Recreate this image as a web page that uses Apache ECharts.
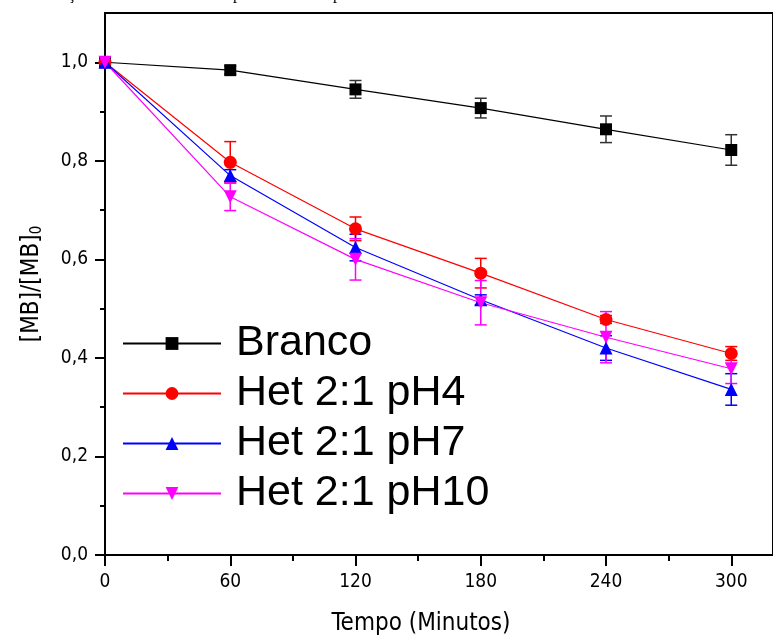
<!DOCTYPE html>
<html>
<head>
<meta charset="utf-8">
<script src="https://cdn.jsdelivr.net/npm/echarts@6/dist/echarts.min.js"></script>
<style>
  html, body { margin: 0; padding: 0; background: #fff; }
  #chart { width: 773px; height: 641px; }
</style>
</head>
<body>
<div id="chart"></div>
<script>
// tempo (minutos)
const tempos = [0, 60, 120, 180, 240, 300];

// [MB]/[MB]0
const branco = [1.0, 0.984, 0.945, 0.907, 0.864, 0.822];
const ph4 = [1.0, 0.797, 0.662, 0.572, 0.478, 0.409];
const ph7 = [1.0, 0.770, 0.624, 0.518, 0.420, 0.336];
const ph10 = [1.0, 0.727, 0.600, 0.512, 0.442, 0.378];

// barras de erro (±)
const brancoErr = [0, 0.008, 0.018, 0.020, 0.027, 0.031];
const ph4Err = [0, 0.042, 0.024, 0.030, 0.008, 0.014];
const ph7Err = [0, 0.012, 0.027, 0.010, 0.025, 0.032];
const ph10Err = [0, 0.028, 0.042, 0.045, 0.052, 0.030];

const xMajor = [0, 60, 120, 180, 240, 300];
const xMinor = [30, 90, 150, 210, 270];
const yMajor = [0, 0.2, 0.4, 0.6, 0.8, 1.0];
const yMinor = [0.1, 0.3, 0.5, 0.7, 0.9];

const names = ['Branco', 'Het 2:1 pH4', 'Het 2:1 pH7', 'Het 2:1 pH10'];
const cores = ['#000000', '#ff0000', '#0000ff', '#ff00ff'];

const narrow = "'Liberation Sans Narrow', 'Arial Narrow', 'DejaVu Sans Condensed', sans-serif";

const chart = echarts.init(document.getElementById('chart'));

const pares = (vals) => tempos.map((t, i) => [t, vals[i]]);
const erros = (vals, errs) => tempos.map((t, i) => [t, vals[i], errs[i]]);

function linha(name, vals, cor, symbol, size, rot) {
  return {
    name: name,
    type: 'line',
    data: pares(vals),
    symbol: symbol,
    symbolSize: size,
    symbolRotate: rot || 0,
    lineStyle: { color: cor, width: 1.2 },
    itemStyle: { color: cor },
    z: 5,
    animation: false
  };
}

function barraErro(vals, errs, cor) {
  return {
    type: 'custom',
    data: erros(vals, errs),
    z: 3,
    silent: true,
    animation: false,
    renderItem: function (params, api) {
      const x = api.value(0), y = api.value(1), e = api.value(2);
      if (!e) return null;
      const top = api.coord([x, y + e]);
      const bot = api.coord([x, y - e]);
      const w = 6;
      const st = { stroke: cor, lineWidth: 1.5 };
      return {
        type: 'group',
        children: [
          { type: 'line', shape: { x1: top[0], y1: top[1], x2: bot[0], y2: bot[1] }, style: st },
          { type: 'line', shape: { x1: top[0] - w, y1: top[1], x2: top[0] + w, y2: top[1] }, style: st },
          { type: 'line', shape: { x1: bot[0] - w, y1: bot[1], x2: bot[0] + w, y2: bot[1] }, style: st }
        ]
      };
    }
  };
}

const fmt = (v) => v.toFixed(1).replace('.', ',');

chart.setOption({
  backgroundColor: '#fff',
  animation: false,
  grid: {
    left: 105, right: -1, top: 13, bottom: 85,
    show: true, borderColor: '#000', borderWidth: 2
  },
  graphic: [
    { type: 'text', left: 68, top: -13, style: { text: 'ç', font: '16px "Liberation Serif"', fill: '#000' } },
    { type: 'text', left: 233, top: -13, style: { text: 'p', font: '16px "Liberation Serif"', fill: '#000' } },
    { type: 'text', left: 333, top: -13, style: { text: 'p', font: '16px "Liberation Serif"', fill: '#000' } }
  ],
  legend: {
    data: names,
    orient: 'vertical',
    left: 117,
    top: 317,
    itemWidth: 98,
    itemHeight: 16,
    itemGap: 7,
    textStyle: {
      fontSize: 43,
      lineHeight: 43,
      fontFamily: "'Liberation Sans', Arial, sans-serif",
      color: '#000',
      padding: [0, 0, 0, 10]
    }
  },
  xAxis: [
    {
      type: 'value', min: 0, max: 320,
      name: 'Tempo (Minutos)', nameLocation: 'middle', nameGap: 57,
      nameTextStyle: { fontSize: 24, fontFamily: narrow, color: '#000', padding: [0, 36, 0, 0] },
      axisLine: { lineStyle: { color: '#000', width: 2 } },
      axisTick: { show: true, inside: false, length: 11, lineStyle: { color: '#000', width: 2 }, customValues: xMajor },
      axisLabel: { fontSize: 19, fontFamily: narrow, color: '#000', margin: 18, customValues: xMajor },
      splitLine: { show: false }
    },
    {
      type: 'value', min: 0, max: 320, position: 'bottom',
      axisLine: { show: false },
      axisTick: { show: true, inside: false, length: 6, lineStyle: { color: '#000', width: 2 }, customValues: xMinor },
      axisLabel: { show: false },
      splitLine: { show: false }
    }
  ],
  yAxis: [
    {
      type: 'value', min: 0, max: 1.1,
      name: '{a|[MB]/[MB]}{b|0}', nameLocation: 'middle', nameGap: 60,
      nameTextStyle: {
        fontSize: 24, fontFamily: narrow, color: '#000',
        rich: {
          a: { fontSize: 24, fontFamily: narrow, color: '#000' },
          b: { fontSize: 15, fontFamily: narrow, color: '#000', verticalAlign: 'bottom', padding: [11, 0, 0, 0] }
        }
      },
      axisLine: { lineStyle: { color: '#000', width: 2 } },
      axisTick: { show: true, inside: false, length: 10, lineStyle: { color: '#000', width: 2 }, customValues: yMajor },
      axisLabel: { fontSize: 19, fontFamily: narrow, color: '#000', margin: 17, formatter: fmt, customValues: yMajor },
      splitLine: { show: false }
    },
    {
      type: 'value', min: 0, max: 1.1, position: 'left',
      axisLine: { show: false },
      axisTick: { show: true, inside: false, length: 5, lineStyle: { color: '#000', width: 2 }, customValues: yMinor },
      axisLabel: { show: false },
      splitLine: { show: false }
    }
  ],
  series: [
    barraErro(branco, brancoErr, '#333333'),
    barraErro(ph4, ph4Err, cores[1]),
    barraErro(ph7, ph7Err, cores[2]),
    barraErro(ph10, ph10Err, cores[3]),
    linha(names[0], branco, cores[0], 'rect', 12),
    linha(names[1], ph4, cores[1], 'circle', 13),
    linha(names[2], ph7, cores[2], 'triangle', 13),
    linha(names[3], ph10, cores[3], 'triangle', 13, 180)
  ]
});
</script>
</body>
</html>
